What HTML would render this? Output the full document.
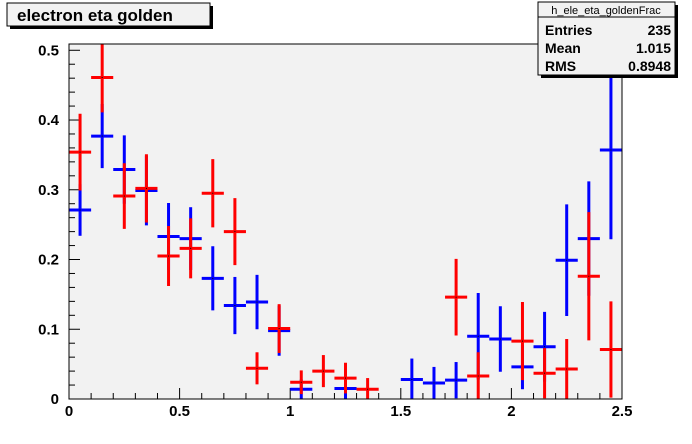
<!DOCTYPE html>
<html><head><meta charset="utf-8"><style>
html,body{margin:0;padding:0;background:#fff;}
svg{display:block;font-family:"Liberation Sans",Arial,sans-serif;}
</style></head><body>
<svg id="c" width="692" height="444" viewBox="0 0 692 444">
<rect x="69" y="44" width="553" height="355" fill="#f2f2f2"/>
<g id="axes"></g>
<g id="series"></g>
<rect x="69" y="44" width="553" height="355" fill="none" stroke="#000" stroke-width="1"/>
<g>
<rect x="10" y="6" width="203" height="23" fill="#000"/>
<rect x="7" y="3" width="203" height="23" fill="#f2f2f2" stroke="#000" stroke-width="1"/>
<text x="17" y="21" font-size="17" font-weight="bold">electron eta golden</text>
</g>
<g>
<rect x="541" y="5" width="137" height="73" fill="#000"/>
<rect x="538" y="2" width="137" height="73" fill="#f2f2f2" stroke="#000" stroke-width="1"/>
<line x1="538" y1="17" x2="675" y2="17" stroke="#000"/>
<text x="606" y="14" font-size="11" text-anchor="middle">h_ele_eta_goldenFrac</text>
<text x="545" y="35" font-size="14" font-weight="bold">Entries</text><text x="671" y="35" font-size="14" font-weight="bold" text-anchor="end">235</text>
<text x="545" y="53" font-size="14" font-weight="bold">Mean</text><text x="671" y="53" font-size="14" font-weight="bold" text-anchor="end">1.015</text>
<text x="545" y="71" font-size="14" font-weight="bold">RMS</text><text x="671" y="71" font-size="14" font-weight="bold" text-anchor="end">0.8948</text>
</g>
</svg>
<script>
const binEdgesMin = 0, binWidth = 0.1, nBins = 25;
const xTickLabels = ["0","0.5","1","1.5","2","2.5"];
const yTickLabels = ["0","0.1","0.2","0.3","0.4","0.5"];
const blueBins = [0,1,2,3,4,5,6,7,8,9,10,12,15,16,17,18,19,20,21,22,23,24];
const blueValues = [0.271,0.377,0.329,0.299,0.233,0.230,0.173,0.134,0.139,0.098,0.014,0.015,0.028,0.023,0.027,0.090,0.086,0.046,0.075,0.199,0.230,0.357];
const blueErrors = [0.037,0.046,0.049,0.05,0.048,0.045,0.046,0.041,0.039,0.036,0.014,0.015,0.030,0.023,0.026,0.062,0.047,0.032,0.050,0.080,0.082,0.128];
const redBins = [0,1,2,3,4,5,6,7,8,9,10,11,12,13,17,18,20,21,22,23,24];
const redValues = [0.354,0.461,0.291,0.302,0.205,0.216,0.295,0.240,0.044,0.101,0.024,0.040,0.030,0.014,0.146,0.033,0.083,0.037,0.043,0.176,0.071];
const redErrors = [0.055,0.05,0.047,0.049,0.043,0.043,0.049,0.048,0.023,0.035,0.017,0.023,0.022,0.016,0.055,0.034,0.056,0.036,0.043,0.092,0.069];

const X0=69,X1=622,Y0=399,Y1=44, xmax=2.5, ymax=0.509;
const sx=v=>X0+(v-binEdgesMin)/(xmax-binEdgesMin)*(X1-X0);
const sy=v=>Y0-v/ymax*(Y0-Y1);
const NS="http://www.w3.org/2000/svg";
function mk(tag,attrs,parent){const e=document.createElementNS(NS,tag);for(const k in attrs)e.setAttribute(k,attrs[k]);parent.appendChild(e);return e;}
const axes=document.getElementById('axes'), ser=document.getElementById('series');
// x ticks
for(let i=0;i<=50;i++){const v=i*0.05;const x=sx(v);const len=(i%10===0)?11:(i%2===0?6:0);
 if(len){const t=mk('line',{x1:x,y1:Y0,x2:x,y2:Y0-len,stroke:'#000'},axes);
 
 }}
xTickLabels.forEach(s=>{const t=mk('text',{x:sx(parseFloat(s)),y:416,'font-size':15,'font-weight':'bold','text-anchor':'middle'},axes);t.textContent=s;
 
 });
// y ticks
for(let i=0;i<=25;i++){const v=i*0.02;const y=sy(v);const len=(i%5===0)?11:6;
 const t=mk('line',{x1:X0,y1:y,x2:X0+len,y2:y,stroke:'#000'},axes);
 
 }
yTickLabels.forEach(s=>{const t=mk('text',{x:59,y:sy(parseFloat(s))+5,'font-size':15,'font-weight':'bold','text-anchor':'end'},axes);t.textContent=s;
 
 });
function draw(bins,vals,errs,color,name){
 bins.forEach((b,i)=>{const lo=binEdgesMin+b*binWidth;const xc=sx(lo+binWidth/2);
  const g=mk('g',{},ser);
  
  
  const top=Math.max(Y1,sy(vals[i]+errs[i]));const bot=Math.min(Y0,sy(vals[i]-errs[i]));
  mk('line',{x1:xc,y1:top,x2:xc,y2:bot,stroke:color,'stroke-width':3},g);
  mk('line',{x1:sx(lo),y1:sy(vals[i]),x2:sx(lo+binWidth),y2:sy(vals[i]),stroke:color,'stroke-width':3},g);
  mk('rect',{x:xc-0.5,y:sy(vals[i])-0.5,width:1,height:1,fill:'#000'},g);
 });
}
draw(blueBins,blueValues,blueErrors,'#0000ff','blue-series');
draw(redBins,redValues,redErrors,'#ff0000','red-series');
</script>
</body></html>
